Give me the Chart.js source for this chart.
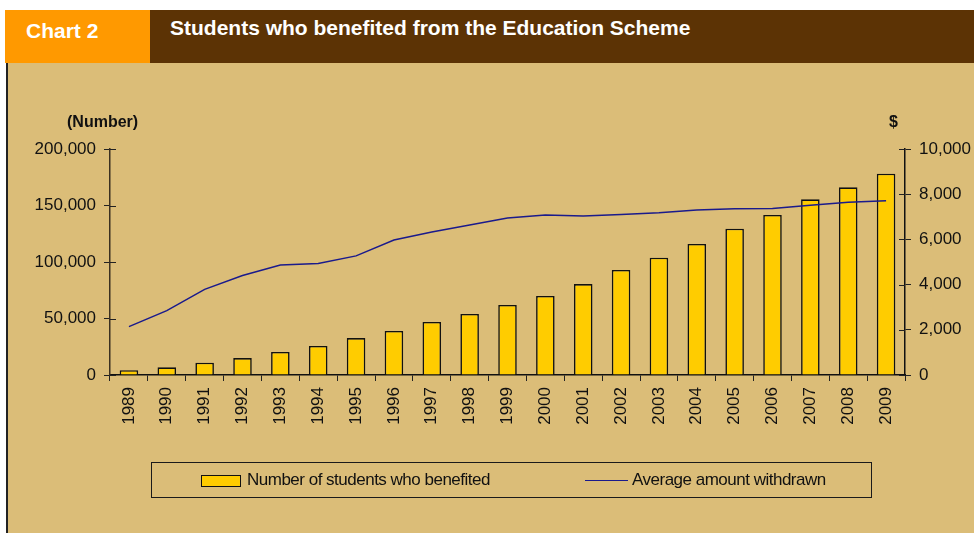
<!DOCTYPE html>
<html>
<head>
    <title>Students who benefited from the Education Scheme</title>
    <style>
        body {
            margin: 0;
            width: 974px;
            height: 533px;
            position: relative;
            overflow: hidden;
            background: #ffffff;
            font-family: "Liberation Sans", Arial, sans-serif;
        }
        #tag {
            position: absolute; left: 5px; top: 10px; width: 145px; height: 53px;
            background: #ff9900; color: #fff; font-weight: bold; font-size: 21px;
            box-sizing: border-box; padding: 9px 0 0 21px; white-space: nowrap;
        }
        #bar {
            position: absolute; left: 150px; top: 10px; right: 0; height: 53px;
            background: #5c3305; color: #fff; font-weight: bold; font-size: 21px;
            box-sizing: border-box; padding: 6px 0 0 20px; white-space: nowrap;
        }
        #panel {
            position: absolute; left: 6px; top: 63px; right: 0; bottom: 0;
            background: #dbbd78; border-left: 2px solid #222;
        }
        #chartBox {
            position: absolute; left: 0; top: 63px; width: 974px; height: 470px;
        }
        .axisTitle {
            position: absolute; font-weight: bold; font-size: 16px; color: #111;
        }
        #legend {
            position: absolute; left: 151px; top: 462px; width: 721px; height: 36px;
            box-sizing: border-box; border: 1.5px solid #1a1a1a;
            font-size: 17px; color: #111; letter-spacing: -0.5px; white-space: nowrap;
        }
        .item { position: absolute; top: 7px; }
        .swatchBar {
            display: inline-block; width: 38px; height: 10px; background: #ffcc00;
            border: 1.5px solid #111; vertical-align: middle; margin-right: 6px;
        }
        .swatchLine {
            display: inline-block; width: 43px; height: 0; border-top: 1.5px solid #1a1a8c;
            vertical-align: middle; margin-right: 4px;
        }
    </style>
</head>
<body>
    <div id="tag">Chart 2</div>
    <div id="bar">Students who benefited from the Education Scheme</div>
    <div id="panel"></div>
    <div id="chartBox"><canvas id="chart" width="974" height="470"></canvas></div>
    <div class="axisTitle" style="left:67px; top:113px;">(Number)</div>
    <div class="axisTitle" style="left:889px; top:113px;">$</div>
    <div id="legend">
        <div class="item" style="left:49px;"><span class="swatchBar"></span>Number of students who benefited</div>
        <div class="item" style="left:433px;"><span class="swatchLine"></span>Average amount withdrawn</div>
    </div>
    <script src="https://cdn.jsdelivr.net/npm/chart.js"></script>
    <script>
        const years = ['1989', '1990', '1991', '1992', '1993', '1994', '1995', '1996', '1997', '1998', '1999',
                       '2000', '2001', '2002', '2003', '2004', '2005', '2006', '2007', '2008', '2009'];
        // number of students who benefited
        const students = [4200, 6800, 10900, 15000, 20400, 25700, 32700, 39000, 47000, 54000, 62000,
                          70000, 80500, 93000, 103800, 116000, 129500, 141600, 155500, 166100, 178100];
        // average amount withdrawn ($)
        const avgAmount = [2140, 2850, 3790, 4400, 4870, 4930, 5270, 5970, 6330, 6640, 6950,
                           7080, 7030, 7100, 7180, 7300, 7360, 7370, 7510, 7640, 7710];

        const labelFont = { family: "'Liberation Sans', Arial, sans-serif", size: 17 };

        // draws the part of each tick mark that sits inside the plot area
        const innerTicks = {
            id: 'innerTicks',
            afterDraw(chart) {
                const ctx = chart.ctx;
                ctx.save();
                ctx.strokeStyle = '#222';
                ctx.lineWidth = 1;
                ['y', 'y1'].forEach(id => {
                    const s = chart.scales[id];
                    s.ticks.forEach(t => {
                        const py = Math.round(s.getPixelForValue(t.value)) + 0.5;
                        ctx.beginPath();
                        if (s.position === 'left') {
                            ctx.moveTo(s.right, py); ctx.lineTo(s.right + 6, py);
                        } else {
                            ctx.moveTo(s.left, py); ctx.lineTo(s.left - 6, py);
                        }
                        ctx.stroke();
                    });
                });
                ctx.restore();
            }
        };

        new Chart(document.getElementById('chart'), {
            data: {
                labels: years,
                datasets: [{
                    type: 'line',
                    label: 'Average amount withdrawn',
                    data: avgAmount,
                    yAxisID: 'y1',
                    borderColor: '#1a1a8c',
                    borderWidth: 1.5,
                    pointRadius: 0,
                    tension: 0,
                    order: 0
                }, {
                    type: 'bar',
                    label: 'Number of students who benefited',
                    data: students,
                    yAxisID: 'y',
                    backgroundColor: '#ffcc00',
                    borderColor: '#111',
                    borderWidth: 1.6,
                    barPercentage: 0.5,
                    categoryPercentage: 0.98,
                    order: 1
                }]
            },
            options: {
                responsive: false,
                maintainAspectRatio: false,
                animation: false,
                layout: { padding: { top: 86, left: 0, right: 0, bottom: 0 } },
                plugins: { legend: { display: false }, tooltip: { enabled: false } },
                scales: {
                    x: {
                        offset: true,
                        grid: { offset: true, drawOnChartArea: false, tickLength: 6, color: '#222' },
                        border: { color: '#111', width: 1.5 },
                        ticks: { color: '#111', font: labelFont, minRotation: 90, maxRotation: 90, padding: 6, autoSkip: false },
                        afterFit: s => { s.height = 158; }
                    },
                    y: {
                        position: 'left',
                        min: 0, max: 200000,
                        grid: { drawOnChartArea: false, tickLength: 6, color: '#222' },
                        border: { color: '#3a3020', width: 1.5 },
                        ticks: {
                            stepSize: 50000, color: '#111', font: labelFont, padding: 8,
                            callback: v => v.toLocaleString('en-US')
                        },
                        afterFit: s => { s.width = 110; }
                    },
                    y1: {
                        position: 'right',
                        min: 0, max: 10000,
                        grid: { drawOnChartArea: false, tickLength: 6, color: '#222' },
                        border: { color: '#111', width: 1.5 },
                        ticks: {
                            stepSize: 2000, color: '#111', font: labelFont, padding: 8,
                            callback: v => v.toLocaleString('en-US')
                        },
                        afterFit: s => { s.width = 69; }
                    }
                }
            },
            plugins: [innerTicks]
        });
    </script>
</body>
</html>
